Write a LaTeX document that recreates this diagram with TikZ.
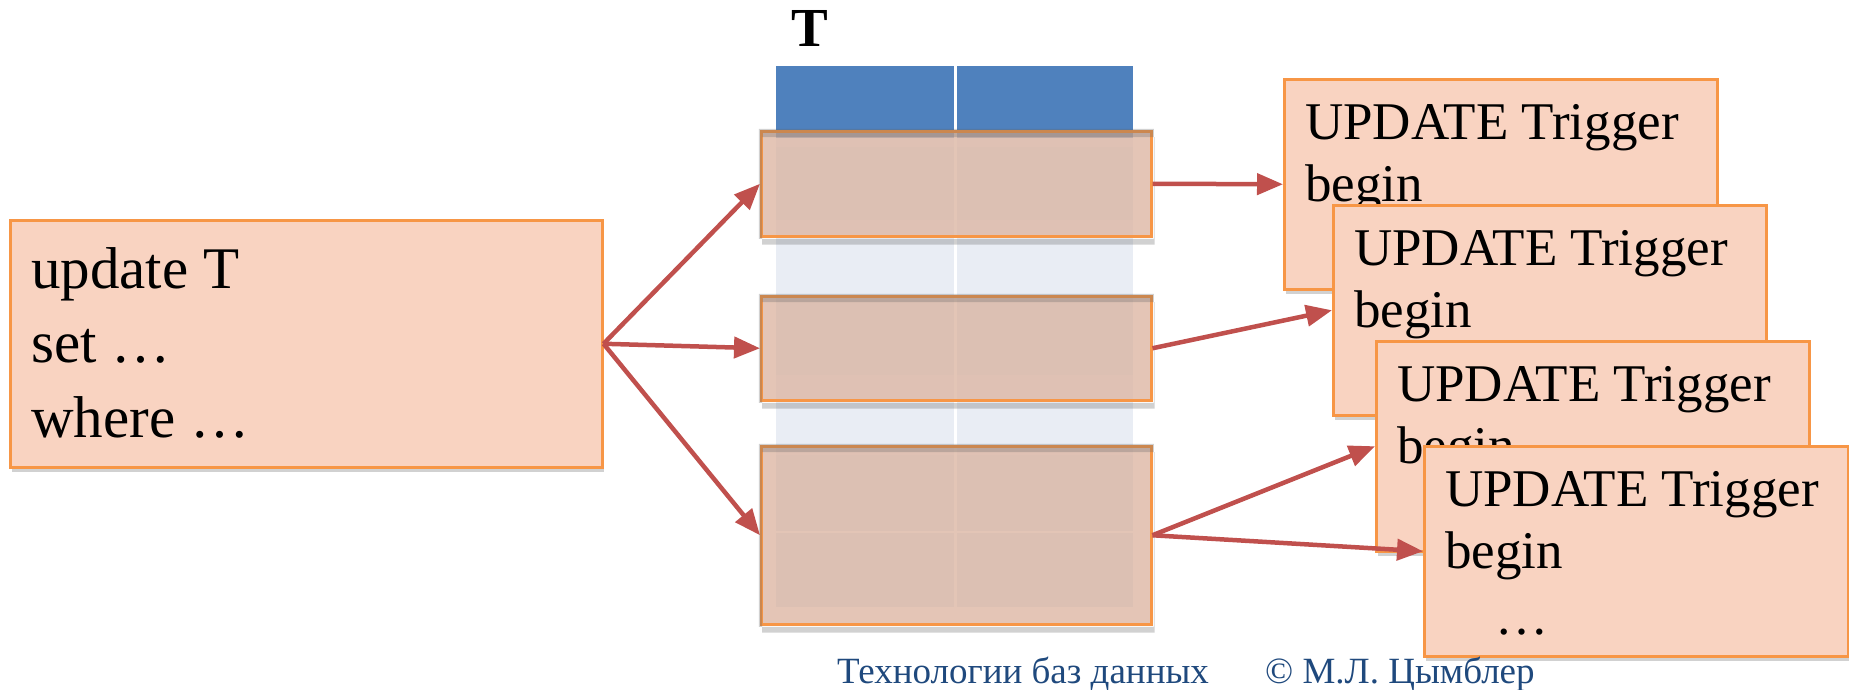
\documentclass[tikz,border=0pt]{standalone}
\usepackage{fontspec}
\setmainfont{Liberation Serif}
\usetikzlibrary{arrows.meta,calc,shadows}
\definecolor{boxfill}{HTML}{F9D3C1}
\definecolor{boxline}{HTML}{F79646}
\definecolor{rowfill}{HTML}{DDB7A4}
\definecolor{hdrblue}{HTML}{4F81BD}
\definecolor{bodyblue}{HTML}{E9EDF4}
\definecolor{rowblue}{HTML}{D8E5F3}
\definecolor{arrowred}{HTML}{C0504D}
\definecolor{footblue}{HTML}{1F497D}
\tikzset{
  sqlbox/.style={draw=boxline, line width=2.5pt, fill=boxfill, anchor=north west, inner sep=0pt,
     drop shadow={shadow xshift=2pt, shadow yshift=-5pt, opacity=0.3, fill=black!60}},
  rowbox/.style={draw=boxline, line width=2.5pt, fill=rowfill, fill opacity=0.8, anchor=north west, inner sep=0pt},
  shadowband/.style={fill=black!60, opacity=0.3, even odd rule},
  sqltxt/.style={anchor=base west, inner sep=0pt, align=left, font=\fontsize{59}{74.5}\selectfont},
  trigtxt/.style={anchor=base west, inner sep=0pt, align=left, font=\fontsize{53}{62}\selectfont},
  flow/.style={draw=arrowred, line width=4.5pt, -{Triangle[length=26pt,width=21pt]}},
  foot/.style={anchor=base west, inner sep=0pt, text=footblue, font=\fontsize{37}{40}\selectfont},
  tlabel/.style={anchor=base west, inner sep=0pt, font=\fontsize{55}{57}\selectfont\bfseries},
}
\begin{document}
\begin{tikzpicture}[x=1pt, y=-1pt]
\useasboundingbox (0,0) rectangle (1849,689);
% table T
\fill[hdrblue] (776,66) rectangle (1133,138);
\fill[bodyblue] (776,138) rectangle (1133,607);
\fill[rowblue] (776,147) rectangle (1133,220);
\fill[rowblue] (776,300) rectangle (1133,375);
\fill[rowblue] (776,455) rectangle (1133,531);
\fill[rowblue] (776,533) rectangle (1133,607);
\draw[white, line width=2pt] (776,532) -- (1133,532);
\draw[white, line width=3pt] (955,66) -- (955,607);
\node[tlabel] (tname) at (791,46) {T};
% rows being updated
\node[rowbox, minimum width=390pt, minimum height=105pt] (r1) at (760,130) {};
\node[rowbox, minimum width=390pt, minimum height=104pt] (r2) at (760,295) {};
\node[rowbox, minimum width=390pt, minimum height=178pt] (r3) at (760,445) {};
\foreach \r in {r1,r2,r3}{
  \fill[shadowband] ($(\r.north west)+(2,7)$) rectangle ($(\r.south east)+(2,7)$)
        ($(\r.north west)+(-1.25,-1.25)$) rectangle ($(\r.south east)+(1.25,1.25)$);
}
% update statement
\node[sqlbox, minimum width=592pt, minimum height=247pt] (sql) at (9,219) {};
\node[sqltxt] (sqltext) at ($(sql.north west)+(22,218)$) {update T\\set …\\where …};
% trigger boxes
\node[sqlbox, minimum width=433pt, minimum height=210pt] (ta) at (1283,78) {};
\node[trigtxt] (tatext) at ($(ta.north west)+(22,123)$) {UPDATE Trigger\\begin};
\node[sqlbox, minimum width=433pt, minimum height=210pt] (tb) at (1332,204) {};
\node[trigtxt] (tbtext) at ($(tb.north west)+(22,123)$) {UPDATE Trigger\\begin};
\node[sqlbox, minimum width=433pt, minimum height=210pt] (tc) at (1375,340) {};
\node[trigtxt] (tctext) at ($(tc.north west)+(22,123)$) {UPDATE Trigger\\begin};
\node[sqlbox, minimum width=424pt, minimum height=210pt] (td) at (1423,445) {};
\node[trigtxt] (tdtext) at ($(td.north west)+(22,189)$) {UPDATE Trigger\\begin\\[4pt]\hspace*{50pt}…};
% arrows
\draw[flow] (sql.east) -- (r1.west);
\draw[flow] (sql.east) -- (r2.west);
\draw[flow] (sql.east) -- (r3.west);
\draw[flow] (r1.east) -- (ta.west);
\draw[flow] (r2.east) -- (tb.west);
\draw[flow] (r3.east) -- (tc.west);
\draw[flow] (r3.east) -- (td.west);
% footer
\node[foot] (foot1) at (837,683) {Технологии баз данных};
\node[foot] (foot2) at (1265,683) {© М.Л. Цымблер};
\end{tikzpicture}
\end{document}
